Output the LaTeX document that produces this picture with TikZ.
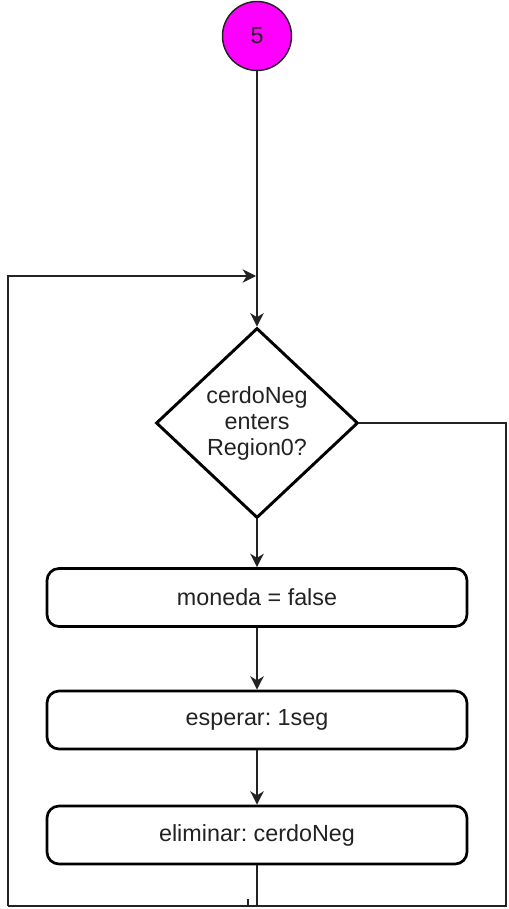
\documentclass[tikz,border=0pt]{standalone}
\usepackage{fontspec}
\setmainfont{Liberation Sans}
\usetikzlibrary{shapes.geometric,arrows.meta}
\definecolor{startfill}{HTML}{FF00FF}
\definecolor{ink}{HTML}{222222}
\frenchspacing
\begin{document}
\begin{tikzpicture}[x=0.75pt,y=-0.75pt,
  every node/.style={font=\fontsize{17.5}{19.5}\selectfont, text=ink},
  flow/.style={draw=ink, line width=1.3pt},
  arrow/.style={flow, -{Stealth[length=10pt,width=10pt,inset=3pt]}},
  stepbox/.style={draw=black, line width=2pt, rounded corners=9pt,
    minimum width=315pt, minimum height=43.5pt, inner sep=0pt},
  decision/.style={diamond, draw=black, line width=2.2pt, minimum width=151.5pt,
    minimum height=142.5pt, inner sep=0pt, align=center},
  connector/.style={circle, draw=ink, line width=1.1pt, fill=startfill,
    minimum size=51.75pt, inner sep=0pt}]
\useasboundingbox (0,0) rectangle (508,909);

% flow elements
\node[connector] (c5) at (257,36) {5};
\node[decision] (q) at (257,423) {cerdoNeg\\enters\\Region0?};
\node[stepbox] (b1) at (257,597.5) {moneda = false};
\node[stepbox] (b2) at (257,720) {esperar: 1seg};
\node[stepbox] (b3) at (257,835) {eliminar: cerdoNeg};

% loop-back routing points
\coordinate (bl) at (8,906);
\coordinate (br) at (506,906);
\coordinate (tl) at (8,276);
\coordinate (merge) at (256,276);
\coordinate (tick) at (248,899);

% main flow
\draw[arrow] (c5) -- (q);
\draw[arrow] (q) -- (b1);
\draw[arrow] (b1) -- (b2);
\draw[arrow] (b2) -- (b3);

% exits and return path
\draw[flow] (q.east) -- (q.east -| br) -- (br) -- (bl);
\draw[arrow] (bl) -- (tl) -- (merge);
\draw[flow] (b3.south) -- (b3.south |- bl);
\draw[flow] (tick) -- (tick |- bl);
\end{tikzpicture}
\end{document}
